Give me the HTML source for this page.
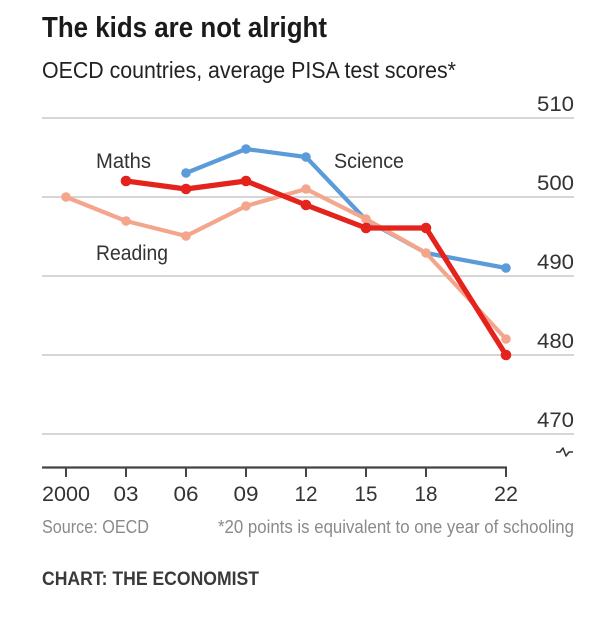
<!DOCTYPE html>
<html>
<head>
<meta charset="utf-8">
<style>
  html, body { margin: 0; padding: 0; background: #ffffff; }
  svg { display: block; }
  text { font-family: "Liberation Sans", "DejaVu Sans", sans-serif; }
</style>
</head>
<body>
<svg width="600" height="617" viewBox="0 0 600 617" xmlns="http://www.w3.org/2000/svg">
  <rect x="0" y="0" width="600" height="617" fill="#ffffff"/>

  <!-- Title & subtitle -->
  <text x="42" y="37" font-size="29" font-weight="bold" fill="#1a1a1a" textLength="285" lengthAdjust="spacingAndGlyphs">The kids are not alright</text>
  <text x="42" y="78" font-size="23" fill="#222222" textLength="414" lengthAdjust="spacingAndGlyphs">OECD countries, average PISA test scores*</text>

  <!-- Gridlines -->
  <g stroke="#c9c9c9" stroke-width="1.5">
    <line x1="42" y1="118" x2="574" y2="118"/>
    <line x1="42" y1="197" x2="574" y2="197"/>
    <line x1="42" y1="276" x2="574" y2="276"/>
    <line x1="42" y1="355" x2="574" y2="355"/>
    <line x1="42" y1="434" x2="574" y2="434"/>
  </g>

  <!-- Y labels -->
  <g font-size="21" fill="#333333" text-anchor="end">
    <text x="574" y="111" textLength="37" lengthAdjust="spacingAndGlyphs">510</text>
    <text x="574" y="190" textLength="37" lengthAdjust="spacingAndGlyphs">500</text>
    <text x="574" y="269" textLength="37" lengthAdjust="spacingAndGlyphs">490</text>
    <text x="574" y="348" textLength="37" lengthAdjust="spacingAndGlyphs">480</text>
    <text x="574" y="427" textLength="37" lengthAdjust="spacingAndGlyphs">470</text>
  </g>

  <!-- Axis break symbol -->
  <path d="M556,452 L560,452 L563,448 L566,456 L569,452 L573,452" fill="none" stroke="#333333" stroke-width="1.5" stroke-linejoin="round"/>

  <!-- X axis -->
  <line x1="42" y1="467.5" x2="507" y2="467.5" stroke="#444444" stroke-width="2.2"/>
  <g stroke="#444444" stroke-width="2">
    <line x1="66" y1="467" x2="66" y2="477"/>
    <line x1="126" y1="467" x2="126" y2="477"/>
    <line x1="186" y1="467" x2="186" y2="477"/>
    <line x1="246" y1="467" x2="246" y2="477"/>
    <line x1="306" y1="467" x2="306" y2="477"/>
    <line x1="366" y1="467" x2="366" y2="477"/>
    <line x1="426" y1="467" x2="426" y2="477"/>
    <line x1="506" y1="467" x2="506" y2="477"/>
  </g>
  <g font-size="21" fill="#333333" text-anchor="middle">
    <text x="66" y="501" textLength="48" lengthAdjust="spacingAndGlyphs">2000</text>
    <text x="126" y="501" textLength="25" lengthAdjust="spacingAndGlyphs">03</text>
    <text x="186" y="501" textLength="25" lengthAdjust="spacingAndGlyphs">06</text>
    <text x="246" y="501" textLength="25" lengthAdjust="spacingAndGlyphs">09</text>
    <text x="306" y="501" textLength="23" lengthAdjust="spacingAndGlyphs">12</text>
    <text x="366" y="501" textLength="23" lengthAdjust="spacingAndGlyphs">15</text>
    <text x="426" y="501" textLength="23" lengthAdjust="spacingAndGlyphs">18</text>
    <text x="506" y="501" textLength="24" lengthAdjust="spacingAndGlyphs">22</text>
  </g>

  <!-- Science (blue) -->
  <polyline points="186,173 246,149 306,157 366,220 426,253 506,268" fill="none" stroke="#5b9bd9" stroke-width="4.2" stroke-linejoin="round" stroke-linecap="round"/>
  <g fill="#5b9bd9">
    <circle cx="186" cy="173" r="4.8"/>
    <circle cx="246" cy="149" r="4.8"/>
    <circle cx="306" cy="157" r="4.8"/>
    <circle cx="506" cy="268" r="4.8"/>
  </g>

  <!-- Reading (salmon) -->
  <polyline points="66,197 126,221 186,236 246,206 306,189 366,219 426,253 506,339" fill="none" stroke="#f4a68d" stroke-width="4.2" stroke-linejoin="round" stroke-linecap="round"/>
  <g fill="#f4a68d">
    <circle cx="66" cy="197" r="4.8"/>
    <circle cx="126" cy="221" r="4.8"/>
    <circle cx="186" cy="236" r="4.8"/>
    <circle cx="246" cy="206" r="4.8"/>
    <circle cx="306" cy="189" r="4.8"/>
    <circle cx="366" cy="219" r="4.8"/>
    <circle cx="426" cy="253" r="4.8"/>
    <circle cx="506" cy="339" r="4.8"/>
  </g>

  <!-- Maths (red) -->
  <polyline points="126,181 186,189 246,181 306,205 366,228 426,228 506,355" fill="none" stroke="#e3231c" stroke-width="5.2" stroke-linejoin="round" stroke-linecap="round"/>
  <g fill="#e3231c">
    <circle cx="126" cy="181" r="5.3"/>
    <circle cx="186" cy="189" r="5.3"/>
    <circle cx="246" cy="181" r="5.3"/>
    <circle cx="306" cy="205" r="5.3"/>
    <circle cx="366" cy="228" r="5.3"/>
    <circle cx="426" cy="228" r="5.3"/>
    <circle cx="506" cy="355" r="5.3"/>
  </g>

  <!-- Series labels -->
  <g font-size="21" fill="#333333">
    <text x="96" y="168" textLength="55" lengthAdjust="spacingAndGlyphs">Maths</text>
    <text x="334" y="168" textLength="70" lengthAdjust="spacingAndGlyphs">Science</text>
    <text x="96" y="260" textLength="72" lengthAdjust="spacingAndGlyphs">Reading</text>
  </g>

  <!-- Footer -->
  <text x="42" y="533" font-size="18" fill="#8a8a8a" textLength="107" lengthAdjust="spacingAndGlyphs">Source: OECD</text>
  <text x="574" y="533" font-size="18" fill="#8a8a8a" text-anchor="end" textLength="356" lengthAdjust="spacingAndGlyphs">*20 points is equivalent to one year of schooling</text>
  <text x="42" y="585" font-size="19" font-weight="bold" fill="#3a3a3a" textLength="217" lengthAdjust="spacingAndGlyphs">CHART: THE ECONOMIST</text>
</svg>
</body>
</html>
